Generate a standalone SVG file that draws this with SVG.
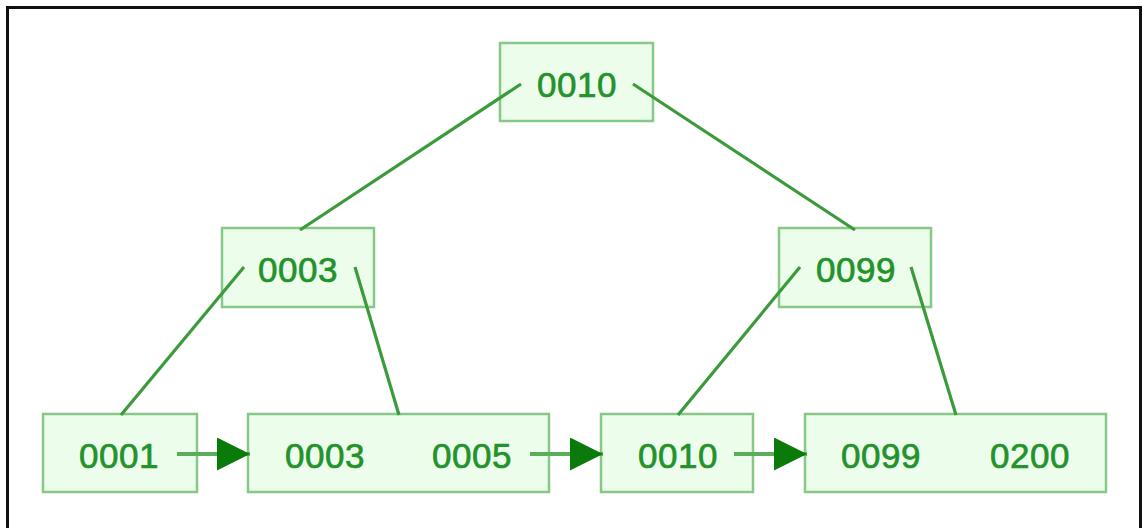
<svg xmlns="http://www.w3.org/2000/svg" width="1143" height="528" viewBox="0 0 1143 528">
<style>
.box{fill:#edfdec;stroke:#86c986;stroke-width:2.5}
.t{font-family:"Liberation Sans",Arial,sans-serif;font-size:35px;fill:#23922a;stroke:#23922a;stroke-width:0.7;text-anchor:middle;letter-spacing:0.5px}
.e{stroke:#3b9b3b;stroke-width:3.2;fill:none}
.a{stroke:#5aae5a;stroke-width:4;fill:none}
</style>
<defs>
<marker id="ah" markerUnits="userSpaceOnUse" markerWidth="33" markerHeight="33" refX="33" refY="16.5" orient="auto">
<path d="M0,0 L33,16.5 L0,33 Z" fill="#0a7a0a"/>
</marker>
</defs>
<rect width="1143" height="528" fill="#fff"/>
<path d="M7.5,528 V7.5 H1140.5 V528" fill="none" stroke="#111" stroke-width="3"/>
<g id="root"><rect class="box" x="500" y="43" width="153" height="78"/><text class="t" x="577" y="97">0010</text></g>
<g id="mid-left"><rect class="box" x="222" y="228" width="152" height="79"/><text class="t" x="298" y="282">0003</text></g>
<g id="mid-right"><rect class="box" x="779" y="228" width="152" height="79"/><text class="t" x="856" y="282">0099</text></g>
<g id="leaf1"><rect class="box" x="43" y="414" width="154" height="78"/><text class="t" x="119" y="468">0001</text></g>
<g id="leaf2"><rect class="box" x="248" y="414" width="301" height="78"/><text class="t" x="325" y="468">0003</text><text class="t" x="472" y="468">0005</text></g>
<g id="leaf3"><rect class="box" x="601" y="414" width="152" height="78"/><text class="t" x="678" y="468">0010</text></g>
<g id="leaf4"><rect class="box" x="805" y="414" width="301" height="78"/><text class="t" x="881" y="468">0099</text><text class="t" x="1030" y="468">0200</text></g>
<g id="connectors">
<line class="e" x1="521" y1="84" x2="300" y2="230"/>
<line class="e" x1="633" y1="84" x2="855" y2="230"/>
<line class="e" x1="244" y1="267" x2="121" y2="415"/>
<line class="e" x1="355" y1="267" x2="399" y2="415"/>
<line class="e" x1="800" y1="267" x2="678" y2="415"/>
<line class="e" x1="911" y1="267" x2="956" y2="415"/>
<line class="a" x1="177" y1="454" x2="250" y2="454" marker-end="url(#ah)"/>
<line class="a" x1="530" y1="454" x2="603" y2="454" marker-end="url(#ah)"/>
<line class="a" x1="734" y1="454" x2="807" y2="454" marker-end="url(#ah)"/>
</g>
</svg>
